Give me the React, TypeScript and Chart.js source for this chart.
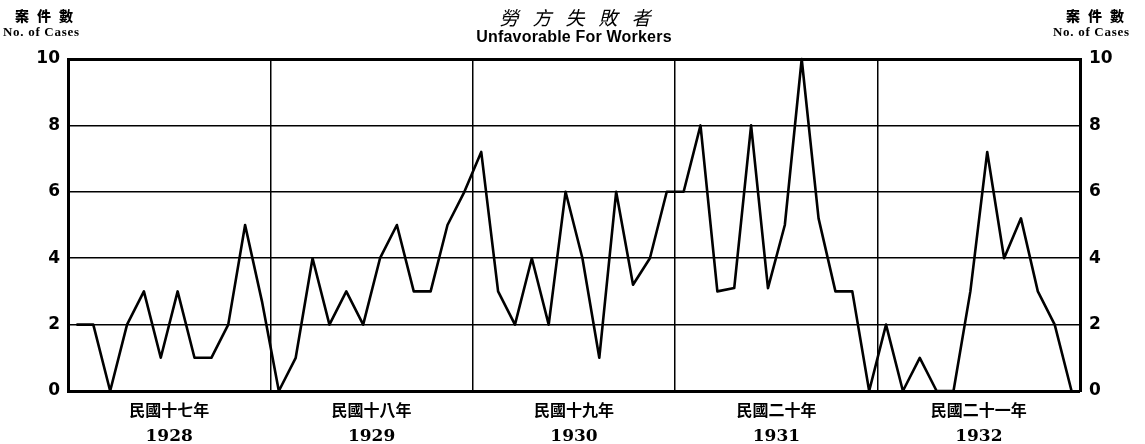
import React, { useEffect, useRef } from 'react';
import { Chart, registerables } from 'chart.js';
Chart.register(...registerables);

const years = ['1928', '1929', '1930', '1931', '1932'];
const rocYears = ['民國十七年', '民國十八年', '民國十九年', '民國二十年', '民國二十一年'];
const cases1928 = [2, 2, 0, 2, 3, 1, 3, 1, 1, 2, 5, 2.7];
const cases1929 = [0, 1, 4, 2, 3, 2, 4, 5, 3, 3, 5, 6];
const cases1930 = [7.2, 3, 2, 4, 2, 6, 4, 1, 6, 3.2, 4, 6];
const cases1931 = [6, 8, 3, 3.1, 8, 3.1, 5, 10, 5.2, 3, 3, 0];
const cases1932 = [2, 0, 1, 0, 0, 3, 7.2, 4, 5.2, 3, 2, 0];
const yTicks = [0, 2, 4, 6, 8, 10];
const yearBounds = [0, 12, 24, 36, 48, 60];
const yearCenters = [6, 18, 30, 42, 54];

const allCases = [...cases1928, ...cases1929, ...cases1930, ...cases1931, ...cases1932];

export default function App() {
  const ref = useRef<HTMLCanvasElement>(null);
  useEffect(() => {
    if (!ref.current) return;
    const tickFont = { family: "'DejaVu Sans', sans-serif", size: 17, weight: 'bold' as const };
    const chart = new Chart(ref.current, {
      type: 'line',
      data: {
        datasets: [
          {
            data: allCases.map((v, i) => ({ x: i + 0.5, y: v })),
            borderColor: '#000',
            borderWidth: 2.6,
            borderJoinStyle: 'round',
            pointRadius: 0,
            tension: 0,
            fill: false,
            clip: false as any,
          },
        ],
      },
      options: {
        animation: false,
        responsive: true,
        maintainAspectRatio: false,
        layout: { padding: { top: 59, left: 0, right: 0, bottom: 0 } },
        plugins: { legend: { display: false }, tooltip: { enabled: false }, title: { display: false } },
        scales: {
          x: {
            type: 'linear',
            position: 'bottom',
            min: 0,
            max: 60,
            weight: 0,
            afterBuildTicks: (s: any) => { s.ticks = yearBounds.map((v) => ({ value: v })); },
            afterFit: (s: any) => { s.height = 0; },
            ticks: { display: false },
            grid: {
              color: '#000',
              lineWidth: (c: any) => (c.tick && (c.tick.value === 0 || c.tick.value === 60) ? 0 : 1.5),
              drawTicks: false,
            },
            border: { display: true, width: 3, color: '#000' },
          },
          xl1: {
            type: 'linear',
            position: 'bottom',
            min: 0,
            max: 60,
            weight: 1,
            afterBuildTicks: (s: any) => { s.ticks = yearCenters.map((v) => ({ value: v })); },
            afterFit: (s: any) => { s.height = 27; },
            ticks: {
              autoSkip: false,
              maxRotation: 0,
              padding: 9,
              color: '#000',
              font: { family: "'Noto Sans CJK TC', sans-serif", size: 16, weight: 'bold' },
              callback: (v: any) => rocYears[yearCenters.indexOf(Number(v))] ?? '',
            },
            grid: { display: false, drawTicks: false },
            border: { display: false },
          },
          xl2: {
            type: 'linear',
            position: 'bottom',
            min: 0,
            max: 60,
            weight: 2,
            afterBuildTicks: (s: any) => { s.ticks = yearCenters.map((v) => ({ value: v })); },
            afterFit: (s: any) => { s.height = 26; },
            ticks: {
              autoSkip: false,
              maxRotation: 0,
              padding: 8,
              color: '#000',
              font: { family: "'DejaVu Serif', serif", size: 17, weight: 'bold' },
              callback: (v: any) => years[yearCenters.indexOf(Number(v))] ?? '',
            },
            grid: { display: false, drawTicks: false },
            border: { display: false },
          },
          y: {
            type: 'linear',
            position: 'left',
            min: 0,
            max: 10,
            afterBuildTicks: (s: any) => { s.ticks = yTicks.map((v) => ({ value: v })); },
            afterFit: (s: any) => { s.width = 68; },
            ticks: { color: '#000', font: tickFont, padding: 8 },
            grid: {
              color: '#000',
              lineWidth: (c: any) => (c.tick && (c.tick.value === 10 || c.tick.value === 0) ? 3 : 1.5),
              drawTicks: false,
            },
            border: { display: true, width: 3, color: '#000' },
          },
          y2: {
            type: 'linear',
            position: 'right',
            min: 0,
            max: 10,
            afterBuildTicks: (s: any) => { s.ticks = yTicks.map((v) => ({ value: v })); },
            afterFit: (s: any) => { s.width = 65; },
            ticks: { color: '#000', font: tickFont, padding: 9 },
            grid: { display: false, drawTicks: false },
            border: { display: true, width: 3, color: '#000' },
          },
        },
      },
    });
    return () => chart.destroy();
  }, []);

  const cjkSmall: React.CSSProperties = {
    position: 'absolute',
    fontFamily: "'Noto Sans CJK TC', sans-serif",
    fontWeight: 900,
    fontSize: 14,
    letterSpacing: 8,
    lineHeight: '15px',
    whiteSpace: 'nowrap',
  };
  const engSmall: React.CSSProperties = {
    position: 'absolute',
    fontFamily: "'Liberation Serif', serif",
    fontWeight: 'bold',
    fontSize: 13,
    letterSpacing: 0.7,
    lineHeight: '12px',
    whiteSpace: 'nowrap',
  };

  return (
    <div style={{ position: 'absolute', left: 0, top: 0, width: 1145, height: 444, background: '#fff', color: '#000' }}>
      <canvas ref={ref} />
      <div style={{ ...cjkSmall, left: 15, top: 8 }}>案件數</div>
      <div style={{ ...engSmall, left: 3, top: 26 }}>No. of Cases</div>
      <div style={{ ...cjkSmall, left: 1066, top: 8 }}>案件數</div>
      <div style={{ ...engSmall, left: 1053, top: 26 }}>No. of Cases</div>
      <div
        style={{
          position: 'absolute',
          left: 0,
          width: 1164,
          textAlign: 'center',
          top: 6,
          fontFamily: "'Noto Sans CJK TC', sans-serif",
          fontStyle: 'italic',
          fontSize: 19,
          letterSpacing: 14,
          lineHeight: '21px',
          whiteSpace: 'nowrap',
        }}
      >
        勞方失敗者
      </div>
      <div
        style={{
          position: 'absolute',
          left: 0,
          width: 1148,
          textAlign: 'center',
          top: 28,
          fontFamily: "'Liberation Sans Narrow', 'Liberation Sans', sans-serif",
          fontWeight: 'bold',
          fontSize: 16,
          letterSpacing: 0.2,
          lineHeight: '18px',
          whiteSpace: 'nowrap',
        }}
      >
        Unfavorable For Workers
      </div>
    </div>
  );
}
